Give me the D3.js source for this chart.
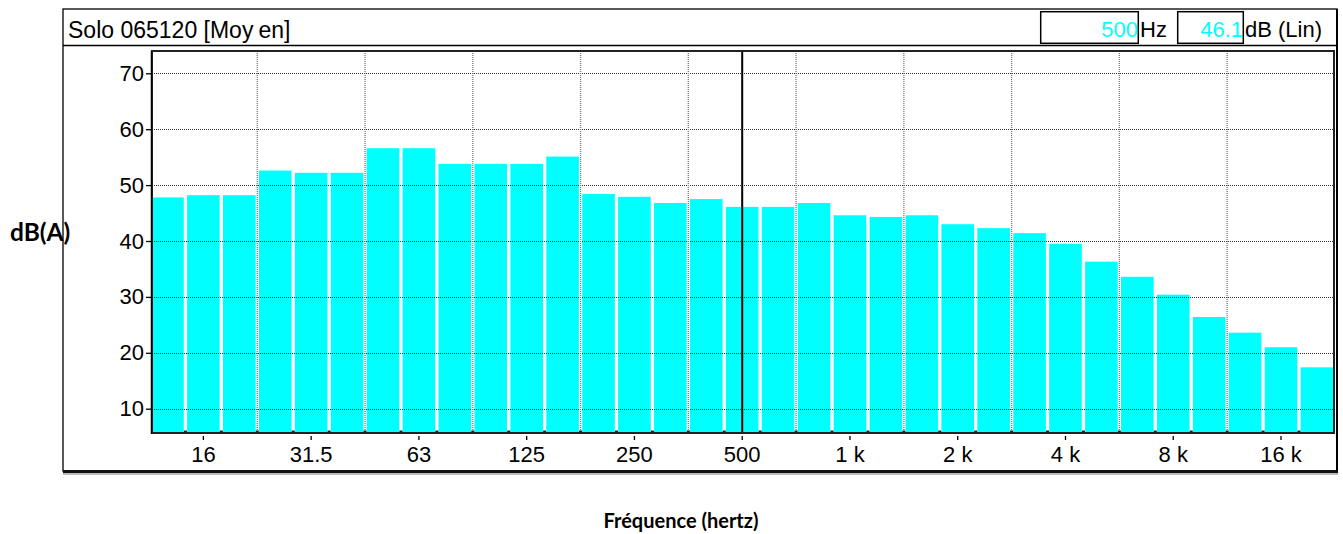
<!DOCTYPE html>
<html>
<head>
<meta charset="utf-8">
<script src="https://cdn.jsdelivr.net/npm/d3@7"></script>
<style>
  html, body { margin: 0; padding: 0; background: #fff; }
  svg { display: block; }
</style>
</head>
<body>
<svg id="chart" width="1343" height="534"></svg>
<script>
// ---- data ----
const categories = ["12.5","16","20","25","31.5","40","50","63","80","100","125","160","200","250","315","400","500","630","800","1 k","1.25 k","1.6 k","2 k","2.5 k","3.15 k","4 k","5 k","6.3 k","8 k","10 k","12.5 k","16 k","20 k"];
const levels = [47.8,48.2,48.2,52.6,52.2,52.2,56.6,56.6,53.8,53.8,53.8,55.1,48.4,47.9,46.8,47.5,46.1,46.1,46.8,44.6,44.3,44.6,43.0,42.3,41.4,39.5,36.3,33.6,30.4,26.4,23.6,21.0,17.4];
const xTickLabels = ["16","31.5","63","125","250","500","1 k","2 k","4 k","8 k","16 k"];
const yTicks = [10,20,30,40,50,60,70];
const gridBoundaries = ["25","50","100","200","400","800","1.6 k","3.15 k","6.3 k","12.5 k"];
const title = "Solo 065120 [Moyen]";
const cursorFreq = "500";
const cursorValue = "46.1";
const yLabel = "dB(A)";
const xLabel = "Fréquence (hertz)";

// ---- layout ----
const svg = d3.select("#chart");
const frame = {l: 63, t: 9, r: 1337, b: 471};
const headerY = 45.5;
const plot = {l: 152, t: 51, r: 1334, b: 433};
const fontMain = "'Liberation Sans', Arial, sans-serif";

const x = d3.scaleBand().domain(categories).range([149.5, 1334.9]).paddingInner(0.092).paddingOuter(0.046);
const y = d3.scaleLinear().domain([10, 70]).range([408.7, 73.3]);

// outer frame
svg.append("rect").attr("x", frame.l).attr("y", frame.t)
  .attr("width", frame.r - frame.l).attr("height", frame.b - frame.t)
  .attr("fill", "none").attr("stroke", "#000").attr("stroke-width", 1.3);
svg.append("line").attr("x1", frame.l).attr("x2", frame.r + 1).attr("y1", frame.b + 0.5).attr("y2", frame.b + 0.5)
  .attr("stroke", "#111").attr("stroke-width", 3);
svg.append("line").attr("x1", frame.l).attr("x2", frame.r + 1).attr("y1", frame.b + 3).attr("y2", frame.b + 3)
  .attr("stroke", "#777").attr("stroke-width", 1);
svg.append("line").attr("x1", frame.r).attr("x2", frame.r).attr("y1", frame.t).attr("y2", frame.b)
  .attr("stroke", "#000").attr("stroke-width", 2);
svg.append("line").attr("x1", frame.l).attr("x2", frame.r).attr("y1", headerY).attr("y2", headerY)
  .attr("stroke", "#000").attr("stroke-width", 1.3);

// header
const tt = svg.append("text").attr("x", 68).attr("y", 37.5)
  .attr("font-family", fontMain).attr("font-size", 23).attr("fill", "#000");
tt.append("tspan").text(title.slice(0, 16));
tt.append("tspan").attr("dx", 5).text(title.slice(16));

svg.append("rect").attr("x", 1040.7).attr("y", 11.7).attr("width", 97.6).attr("height", 31.6)
  .attr("fill", "none").attr("stroke", "#000").attr("stroke-width", 1.5);
svg.append("rect").attr("x", 1177.7).attr("y", 11.7).attr("width", 65.6).attr("height", 31.6)
  .attr("fill", "none").attr("stroke", "#000").attr("stroke-width", 1.5);
svg.append("text").attr("x", 1138).attr("y", 37).attr("text-anchor", "end")
  .attr("font-family", fontMain).attr("font-size", 22).attr("fill", "#00FFFF").text(cursorFreq);
svg.append("text").attr("x", 1140).attr("y", 37)
  .attr("font-family", fontMain).attr("font-size", 22).attr("fill", "#000").text("Hz");
svg.append("text").attr("x", 1243).attr("y", 37).attr("text-anchor", "end")
  .attr("font-family", fontMain).attr("font-size", 22).attr("fill", "#00FFFF").text(cursorValue);
svg.append("text").attr("x", 1245).attr("y", 37)
  .attr("font-family", fontMain).attr("font-size", 22).attr("fill", "#000").text("dB (Lin)");

// clip
svg.append("clipPath").attr("id", "pc").append("rect")
  .attr("x", plot.l).attr("y", plot.t).attr("width", plot.r - plot.l).attr("height", plot.b - plot.t);
const g = svg.append("g").attr("clip-path", "url(#pc)");

// bars
g.selectAll("rect.bar").data(categories).enter().append("rect")
  .attr("class", "bar")
  .attr("x", d => x(d))
  .attr("width", x.bandwidth())
  .attr("y", (d, i) => y(levels[i]))
  .attr("height", (d, i) => plot.b - y(levels[i]))
  .attr("fill", "#00FFFF");

// grid
g.selectAll("line.hg").data(yTicks).enter().append("line")
  .attr("x1", plot.l).attr("x2", plot.r)
  .attr("y1", d => Math.round(y(d)) + 0.5).attr("y2", d => Math.round(y(d)) + 0.5)
  .attr("stroke", "#333").attr("stroke-width", 1.2).attr("stroke-dasharray", "1,1");
g.selectAll("line.vg").data(gridBoundaries).enter().append("line")
  .attr("x1", d => x(d) - x.step() * 0.046).attr("x2", d => x(d) - x.step() * 0.046)
  .attr("y1", plot.t).attr("y2", plot.b)
  .attr("stroke", "#777").attr("stroke-width", 1.3).attr("stroke-dasharray", "1,1");

// minor ticks at band boundaries
g.selectAll("line.mt").data(categories.slice(1)).enter().append("line")
  .attr("x1", d => x(d) - x.step() * 0.046).attr("x2", d => x(d) - x.step() * 0.046)
  .attr("y1", plot.b - 2.5).attr("y2", plot.b)
  .attr("stroke", "#222").attr("stroke-width", 3);

// cursor
g.append("line")
  .attr("x1", x(cursorFreq) + x.bandwidth() / 2).attr("x2", x(cursorFreq) + x.bandwidth() / 2)
  .attr("y1", plot.t).attr("y2", plot.b)
  .attr("stroke", "#000").attr("stroke-width", 2);

// plot border
svg.append("rect").attr("x", plot.l).attr("y", plot.t)
  .attr("width", plot.r - plot.l).attr("height", plot.b - plot.t)
  .attr("fill", "none").attr("stroke", "#222").attr("stroke-width", 2);
svg.append("line").attr("x1", plot.l - 0.5).attr("x2", plot.l - 0.5).attr("y1", plot.t).attr("y2", plot.b + 1)
  .attr("stroke", "#000").attr("stroke-width", 1.5);

// y axis
const yAxis = svg.append("g").attr("transform", `translate(${plot.l - 1},0)`)
  .call(d3.axisLeft(y).tickValues(yTicks).tickSize(5).tickPadding(2).tickFormat(d3.format("d")));
yAxis.select(".domain").remove();
yAxis.selectAll("line").attr("stroke", "#000").attr("stroke-width", 1.3);
yAxis.selectAll("text").attr("font-family", fontMain).attr("font-size", 22).attr("fill", "#000");

// x axis
const xAxis = svg.append("g").attr("transform", `translate(0,${plot.b + 3})`)
  .call(d3.axisBottom(x).tickValues(xTickLabels).tickSize(4).tickPadding(6));
xAxis.select(".domain").remove();
xAxis.selectAll("line").attr("stroke", "#000").attr("stroke-width", 1.3);
xAxis.selectAll("text").attr("font-family", fontMain).attr("font-size", 22).attr("fill", "#000");

// axis titles
svg.append("text").attr("x", 10).attr("y", 241)
  .attr("font-family", "Lato, 'Open Sans', sans-serif").attr("font-weight", "bold").attr("font-size", 24.5)
  .attr("fill", "#000").text(yLabel);
svg.append("text").attr("x", 681).attr("y", 528).attr("text-anchor", "middle")
  .attr("font-family", "Lato, 'Open Sans', sans-serif").attr("font-weight", "bold").attr("font-size", 20)
  .attr("fill", "#000").text(xLabel);
</script>
</body>
</html>
